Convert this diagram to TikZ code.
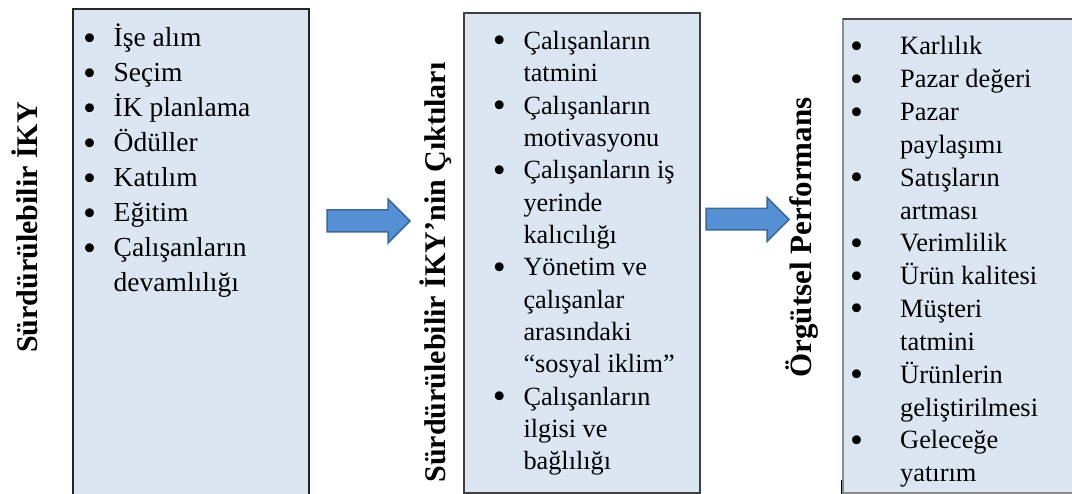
\documentclass[tikz,border=0pt]{standalone}
\usepackage{fontspec}
\setmainfont{Liberation Serif}
\definecolor{panelfill}{RGB}{220,230,242}
\definecolor{arrowfill}{RGB}{86,144,212}
\definecolor{arrowline}{RGB}{60,104,152}
\begin{document}
\begin{tikzpicture}[x=1pt,y=-1pt,
  panel/.style={fill=panelfill, line width=1.3pt},
  itemtext/.style={anchor=base west, inner sep=0pt},
  dotmark/.style={anchor=base, inner sep=0pt, font=\fontsize{37}{37}\selectfont},
  sidelabel/.style={anchor=base, rotate=90, inner sep=0pt, font=\bfseries\fontsize{30}{30}\selectfont},
  blockarrow/.style={fill=arrowfill, draw=arrowline, line width=1.5pt, line join=miter}]
\useasboundingbox (0,0) rectangle (1072,494);
\clip (0,0) rectangle (1072,494);

% the three panels
\draw[panel, draw=black!85] (73,9) rectangle (309,510);
\draw[panel, draw=black!75] (464,13) rectangle (700,493);
\draw[panel, draw=black!45] (843,19) rectangle (1085,493);
\draw[black!70, line width=1.3pt] (843,19) -- (1085,19);
\draw[black, line width=1pt] (841,480) -- (841,494);

% first panel: practices
\foreach [count=\i] \m/\t in {1/İşe alım,1/Seçim,1/İK planlama,1/Ödüller,1/Katılım,1/Eğitim,1/Çalışanların,0/devamlılığı}{
  \pgfmathsetmacro\yy{46.7+35*(\i-1)}
  \node[itemtext, font=\fontsize{27.5}{33}\selectfont] (a-\i) at (113.5,\yy) {\t};
  \ifnum\m=1 \node[dotmark] (ab-\i) at (89.7,{\yy+3.4}) {\textbullet};\fi
}

% second panel: outcomes
\foreach [count=\i] \m/\t in {1/Çalışanların,0/tatmini,1/Çalışanların,0/motivasyonu,1/Çalışanların iş,0/yerinde,0/kalıcılığı,1/Yönetim ve,0/çalışanlar,0/arasındaki,0/{“sosyal iklim”},1/Çalışanların,0/ilgisi ve,0/bağlılığı}{
  \pgfmathsetmacro\yy{49.3+32.36*(\i-1)}
  \node[itemtext, font=\fontsize{26.3}{32}\selectfont] (b-\i) at (523.3,\yy) {\t};
  \ifnum\m=1 \node[dotmark] (bb-\i) at (499.3,{\yy+3.4}) {\textbullet};\fi
}

% third panel: performance
\begin{scope}
\clip (843,19) rectangle (1085,491.5);
\foreach [count=\i] \m/\t in {1/Karlılık,1/Pazar değeri,1/Pazar,0/paylaşımı,1/Satışların,0/artması,1/Verimlilik,1/Ürün kalitesi,1/Müşteri,0/tatmini,1/Ürünlerin,0/geliştirilmesi,1/Geleceğe,0/yatırım}{
  \pgfmathsetmacro\yy{55+32.82*(\i-1)}
  \node[itemtext, font=\fontsize{26.4}{32}\selectfont] (c-\i) at (900,\yy) {\t};
  \ifnum\m=1 \node[dotmark] (cb-\i) at (856.7,{\yy+3.4}) {\textbullet};\fi
}
\end{scope}

% block arrows
\draw[blockarrow] (327,210) -- (388,210) -- (388,199) -- (410,221) -- (388,243) -- (388,232) -- (327,232) -- cycle;
\draw[blockarrow] (706,208.5) -- (767,208.5) -- (767,197.5) -- (789,219.5) -- (767,241.5) -- (767,230) -- (706,230) -- cycle;

% vertical headings
\node[sidelabel] (h1) at (37,227.5) {Sürdürülebilir İKY};
\node[sidelabel] (h2) at (445,272.5) {Sürdürülebilir İKY’nin Çıktıları};
\node[sidelabel, font=\bfseries\fontsize{31}{31}\selectfont] (h3) at (811,237.5) {Örgütsel Performans};
\end{tikzpicture}
\end{document}
